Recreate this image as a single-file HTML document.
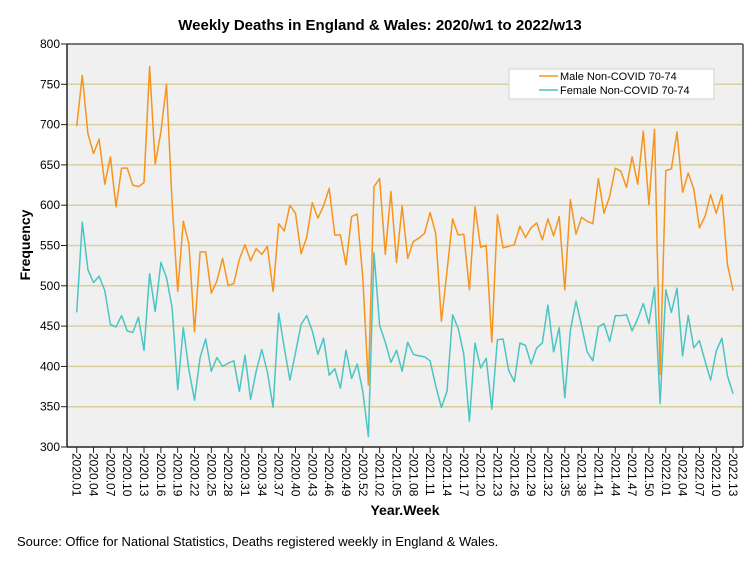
<!DOCTYPE html>
<html><head><meta charset="utf-8"><style>
body{margin:0;background:#fff;}
svg{display:block;font-family:"Liberation Sans",Arial,sans-serif;}
</style></head><body>
<svg id="chart" width="754" height="564" viewBox="0 0 754 564">
<rect x="0" y="0" width="754" height="564" fill="#fff"/>
<text x="380" y="30" text-anchor="middle" font-size="15" font-weight="bold">Weekly Deaths in England &amp; Wales: 2020/w1 to 2022/w13</text>
<rect x="67" y="44" width="676" height="403" fill="#f0f0f0"/>
<g id="grid"></g>
<g id="series"></g>
<line x1="67" y1="44" x2="743" y2="44" stroke="#777" stroke-width="2"/>
<line x1="743" y1="44" x2="743" y2="447" stroke="#777" stroke-width="2"/>
<line x1="67" y1="44" x2="67" y2="447" stroke="#222" stroke-width="1.5"/>
<line x1="67" y1="447" x2="743" y2="447" stroke="#222" stroke-width="1.5"/>
<g id="axes"></g>
<text transform="translate(30,245) rotate(-90)" text-anchor="middle" font-size="14" font-weight="bold">Frequency</text>
<text x="405" y="515" text-anchor="middle" font-size="14" font-weight="bold">Year.Week</text>
<text x="17" y="546" font-size="13">Source: Office for National Statistics, Deaths registered weekly in England &amp; Wales.</text>
<g>
<rect x="509" y="69" width="205" height="30" fill="#fff" stroke="#ddd" stroke-width="1.5"/>
<line x1="539" y1="76" x2="558" y2="76" stroke="#f7941d" stroke-width="1.5"/>
<text x="560" y="80" font-size="11">Male Non-COVID 70-74</text>
<line x1="539" y1="90" x2="558" y2="90" stroke="#4cc4c4" stroke-width="1.5"/>
<text x="560" y="94" font-size="11">Female Non-COVID 70-74</text>
</g>
</svg>
<script>
const maleValues=[698,761,689,664,682,626,660,598,646,646,625,623,628,772,651,691,750,603,493,580,552,443,542,542,491,506,534,500,503,533,
551,531,546,539,549,493,577,568,600,590,540,560,603,584,599,621,563,563,526,586,589,510,377,623,633,539,617,529,599,534,
555,559,565,591,565,456,518,583,563,564,495,598,548,550,430,588,547,549,551,574,560,572,578,557,583,562,586,495,607,564,
585,580,577,633,590,611,646,642,622,660,626,692,601,694,390,643,645,691,616,640,620,572,586,613,590,613,526,494];
const femaleValues=[467,579,520,504,512,494,452,449,463,444,442,461,420,515,468,529,510,473,371,448,396,358,411,434,394,411,400,404,407,369,
414,359,394,421,393,349,466,423,383,417,452,463,444,415,435,389,397,373,420,385,403,369,313,541,451,430,405,420,394,430,
415,413,412,407,376,349,369,464,447,415,332,429,398,410,347,433,434,395,381,429,426,403,423,429,476,418,448,361,445,481,
450,418,407,449,453,431,463,463,464,444,459,478,453,498,354,495,467,497,413,463,423,432,407,383,419,435,388,366];
const yTicks=[300,350,400,450,500,550,600,650,700,750,800];
const NS="http://www.w3.org/2000/svg";
const X0=76.7,STEP=5.61,YTOP=44,YBOT=447,VMIN=300,VMAX=800;
function xPos(i){return X0+STEP*i;}
function yPos(v){return YBOT-(v-VMIN)/(VMAX-VMIN)*(YBOT-YTOP);}
function weekLabel(i){let y,w;if(i<53){y=2020;w=i+1;}else if(i<105){y=2021;w=i-52;}else{y=2022;w=i-104;}return y+"."+(w<10?"0"+w:w);}
const grid=document.getElementById('grid'),axes=document.getElementById('axes'),series=document.getElementById('series');
yTicks.forEach(v=>{
  const y=yPos(v);
  if(v>VMIN&&v<VMAX){const g=document.createElementNS(NS,'line');
  g.setAttribute('x1',67);g.setAttribute('x2',743);g.setAttribute('y1',y);g.setAttribute('y2',y);
  g.setAttribute('stroke','#d9d0a0');g.setAttribute('stroke-width','1.5');
  
  
  grid.appendChild(g);}
  const t=document.createElementNS(NS,'line');
  t.setAttribute('x1',61);t.setAttribute('x2',67);t.setAttribute('y1',y);t.setAttribute('y2',y);t.setAttribute('stroke','#222');
  
  
  axes.appendChild(t);
  const l=document.createElementNS(NS,'text');
  l.setAttribute('x',60);l.setAttribute('y',y+4);l.setAttribute('text-anchor','end');l.setAttribute('font-size','12');
  l.textContent=v;
  
  
  axes.appendChild(l);
});
for(let i=0;i<maleValues.length;i+=3){
  const x=xPos(i);
  const t=document.createElementNS(NS,'line');
  t.setAttribute('x1',x);t.setAttribute('x2',x);t.setAttribute('y1',447);t.setAttribute('y2',453);t.setAttribute('stroke','#222');
  
  
  axes.appendChild(t);
  const l=document.createElementNS(NS,'text');
  l.setAttribute('transform','translate('+(x-4)+',453) rotate(90)');
  l.setAttribute('font-size','12');
  l.textContent=weekLabel(i);
  
  
  axes.appendChild(l);
}
function drawLine(vals,color,name){
  const p=document.createElementNS(NS,'polyline');
  p.setAttribute('points',vals.map((v,i)=>xPos(i).toFixed(1)+','+yPos(v).toFixed(1)).join(' '));
  p.setAttribute('fill','none');p.setAttribute('stroke',color);p.setAttribute('stroke-width','1.5');p.setAttribute('stroke-linejoin','round');
  
  
  series.appendChild(p);
}
drawLine(femaleValues,'#4cc4c4','female-line');
drawLine(maleValues,'#f7941d','male-line');
</script>
</body></html>
